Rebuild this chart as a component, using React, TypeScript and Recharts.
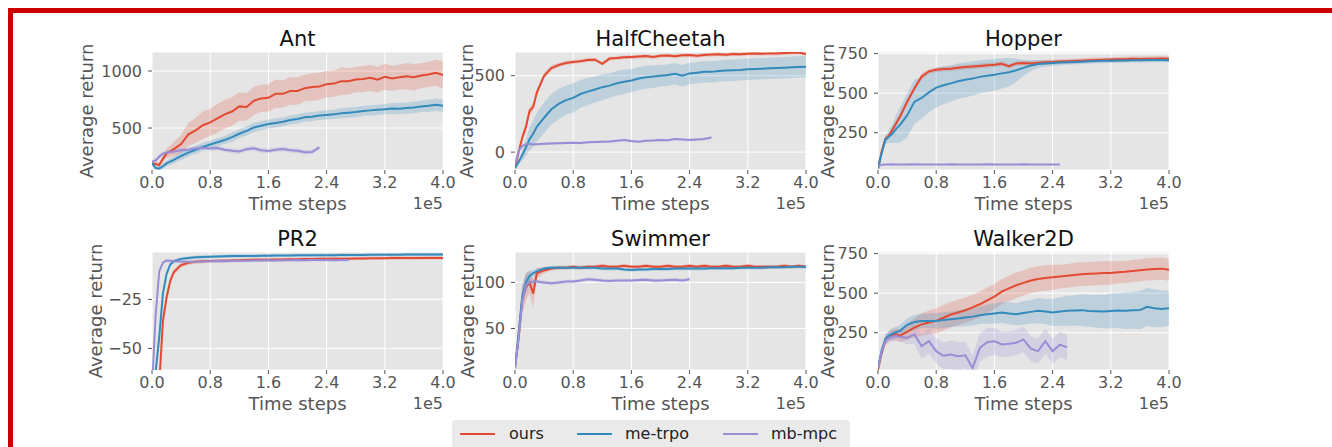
import { ComposedChart, Line, Area, XAxis, YAxis, CartesianGrid } from 'recharts';

type Num = number | null;

// x positions in units of 1e5 time steps
const steps = [
  0, 0.05, 0.1, 0.15, 0.2, 0.25, 0.3, 0.4, 0.5, 0.6, 0.7,
  0.8, 0.9, 1.0, 1.1, 1.2, 1.3, 1.4, 1.5, 1.6, 1.7, 1.8,
  1.9, 2.0, 2.1, 2.2, 2.3, 2.4, 2.5, 2.6, 2.7, 2.8, 2.9,
  3.0, 3.1, 3.2, 3.3, 3.4, 3.5, 3.6, 3.7, 3.8, 3.9, 4.0,
];
const xTicks = [0, 0.8, 1.6, 2.4, 3.2, 4.0];
const legendNames = ['ours', 'me-trpo', 'mb-mpc'];

// ---- Ant ----
const antOurs: Num[] = [
  190, 185, 176, 230, 278, 295, 315, 360, 445, 480, 525,
  550, 585, 620, 645, 690, 685, 740, 760, 765, 800, 800,
  825, 825, 850, 860, 865, 885, 890, 910, 910, 925, 930,
  940, 925, 950, 935, 945, 955, 945, 960, 970, 985, 965,
];
const antOursSd: Num[] = [
  10, 15, 20, 30, 40, 50, 60, 80, 100, 110, 120,
  120, 125, 125, 125, 125, 120, 125, 120, 120, 125, 120,
  120, 120, 115, 120, 120, 115, 115, 120, 115, 110, 115,
  115, 110, 115, 110, 110, 115, 115, 110, 110, 115, 120,
];
const antTrpo: Num[] = [
  190, 150, 145, 165, 190, 205, 220, 255, 285, 310, 335,
  355, 375, 395, 420, 450, 475, 505, 520, 535, 545, 555,
  570, 580, 595, 600, 610, 615, 620, 630, 635, 640, 650,
  655, 660, 665, 672, 670, 675, 680, 690, 695, 705, 696,
];
const antTrpoSd: Num[] = [
  10, 15, 20, 25, 25, 30, 30, 35, 35, 35, 35,
  35, 35, 35, 40, 40, 40, 40, 40, 40, 40, 40,
  40, 40, 40, 40, 40, 40, 40, 45, 45, 45, 45,
  45, 45, 45, 50, 50, 50, 50, 50, 55, 55, 55,
];
const antMpc: Num[] = [
  205, 215, 250, 275, 285, 290, 295, 305, 310, 320, 327,
  320, 325, 310, 300, 295, 315, 322, 305, 298, 310, 316,
  305, 300, 288, 290, 330, null, null, null, null, null, null,
  null, null, null, null, null, null, null, null, null, null, null,
];
const antMpcSd: Num[] = steps.map(() => 20);

// ---- HalfCheetah ----
const hcOurs: Num[] = [
  -105, 0, 95, 165, 270, 295, 390, 500, 550, 570, 583,
  590, 595, 603, 605, 578, 612, 615, 620, 622, 625, 628,
  622, 630, 632, 628, 633, 635, 630, 636, 638, 640, 637,
  642, 640, 644, 645, 643, 646, 645, 648, 650, 652, 642,
];
const hcOursSd: Num[] = [
  5, 15, 25, 25, 25, 25, 25, 20, 18, 15, 15,
  12, 12, 12, 12, 12, 12, 12, 12, 12, 12, 12,
  12, 12, 12, 12, 12, 12, 12, 12, 12, 12, 12,
  12, 12, 12, 12, 12, 12, 12, 12, 12, 12, 12,
];
const hcTrpo: Num[] = [
  -105, -65, -20, 30, 85, 120, 165, 225, 280, 315, 340,
  355, 380, 396, 410, 425, 435, 450, 460, 468, 482, 490,
  494, 500, 505, 512, 500, 515, 520, 526, 525, 530, 534,
  536, 538, 542, 544, 546, 548, 550, 552, 555, 557, 559,
];
const hcTrpoSd: Num[] = [
  5, 15, 35, 55, 75, 85, 95, 100, 100, 100, 95,
  95, 90, 90, 85, 85, 80, 80, 80, 75, 75, 75,
  75, 70, 70, 70, 70, 70, 70, 70, 70, 70, 70,
  70, 70, 70, 70, 70, 70, 70, 70, 70, 70, 70,
];
const hcMpc: Num[] = [
  -85, 10, 40, 52, 55, 50, 52, 55, 56, 58, 60,
  62, 60, 65, 66, 68, 70, 75, 80, 72, 68, 74,
  76, 80, 78, 85, 82, 80, 83, 86, 95, null, null,
  null, null, null, null, null, null, null, null, null, null, null,
];
const hcMpcSd: Num[] = steps.map(() => 8);

// ---- Hopper ----
const hopOurs: Num[] = [
  25, 130, 210, 232, 270, 310, 350, 445, 530, 605, 638,
  648, 652, 655, 660, 665, 668, 672, 676, 680, 686, 670,
  688, 690, 688, 692, 695, 697, 700, 701, 703, 705, 708,
  710, 711, 712, 714, 715, 717, 716, 718, 718, 719, 718,
];
const hopOursSd: Num[] = [
  5, 10, 15, 15, 20, 20, 20, 20, 20, 20, 15,
  15, 15, 15, 15, 15, 15, 15, 15, 15, 15, 15,
  15, 15, 15, 15, 15, 15, 15, 15, 15, 15, 15,
  15, 15, 15, 15, 15, 15, 15, 15, 15, 15, 15,
];
const hopTrpo: Num[] = [
  25, 120, 205, 225, 245, 275, 298, 360, 445, 470, 505,
  535, 550, 562, 575, 585, 592, 603, 610, 616, 625, 632,
  645, 660, 675, 684, 688, 690, 693, 695, 697, 699, 701,
  703, 704, 705, 706, 707, 708, 708, 709, 709, 710, 708,
];
const hopTrpoSd: Num[] = [
  5, 20, 25, 40, 60, 90, 110, 140, 140, 130, 125,
  125, 120, 115, 112, 110, 108, 105, 102, 100, 95, 90,
  75, 50, 35, 25, 20, 18, 16, 15, 15, 15, 15,
  15, 15, 15, 15, 15, 15, 15, 15, 15, 15, 15,
];
const hopMpc: Num[] = [
  40, 48, 50, 50, 51, 50, 50, 50, 51, 50, 50,
  50, 50, 51, 50, 50, 50, 50, 51, 50, 50, 50,
  50, 51, 50, 50, 50, 50, 50, null, null, null, null,
  null, null, null, null, null, null, null, null, null, null, null,
];
const hopMpcSd: Num[] = steps.map(() => 3);

// ---- PR2 ----
const pr2Ours: Num[] = [
  -80, -80, -68, -36, -24, -15.7, -11, -7.5, -6.3, -5.8, -5.5,
  -5.4, -5.3, -5.2, -5.1, -5.0, -4.9, -4.8, -4.8, -4.7, -4.6, -4.6,
  -4.5, -4.5, -4.4, -4.4, -4.3, -4.3, -4.2, -4.2, -4.2, -4.1, -4.1,
  -4.0, -4.0, -4.0, -3.9, -3.9, -3.9, -3.9, -3.8, -3.8, -3.8, -3.8,
];
const pr2OursSd: Num[] = [
  2, 2, 4, 4, 3, 2, 1.5, 1.2, 1, 1, 1,
  0.8, 0.8, 0.8, 0.8, 0.8, 0.8, 0.8, 0.8, 0.8, 0.8, 0.8,
  0.8, 0.8, 0.8, 0.8, 0.8, 0.8, 0.8, 0.8, 0.8, 0.8, 0.8,
  0.8, 0.8, 0.8, 0.8, 0.8, 0.8, 0.8, 0.8, 0.8, 0.8, 0.8,
];
const pr2Trpo: Num[] = [
  -75, -62, -44, -22, -12, -7.2, -5.5, -4.3, -3.9, -3.5, -3.3,
  -3.2, -3.1, -3.0, -2.9, -2.9, -2.8, -2.8, -2.7, -2.7, -2.6, -2.6,
  -2.6, -2.5, -2.5, -2.5, -2.4, -2.4, -2.4, -2.3, -2.3, -2.3, -2.3,
  -2.2, -2.2, -2.2, -2.2, -2.2, -2.1, -2.1, -2.1, -2.1, -2.1, -2.1,
];
const pr2TrpoSd: Num[] = steps.map(() => 0.8);
const pr2Mpc: Num[] = [
  -70, -33, -10.6, -6.3, -5.1, -5.3, -5.5, -5.7, -5.8, -5.8, -5.6,
  -5.5, -5.4, -5.5, -5.3, -5.2, -5.2, -5.1, -5.1, -5.0, -5.1, -5.0,
  -5.0, -4.9, -5.0, -4.9, -4.9, -4.9, -5.0, -4.9, -4.9, null, null,
  null, null, null, null, null, null, null, null, null, null, null,
];
const pr2MpcSd: Num[] = steps.map(() => 0.8);

// ---- Swimmer ----
const swOurs: Num[] = [
  7, 40, 82, 95, 100, 88, 110, 113, 115, 116, 116,
  117, 116, 117, 117, 118, 117, 117, 118, 117, 117, 118,
  117, 117, 118, 117, 117, 118, 117, 118, 117, 117, 118,
  117, 117, 118, 117, 117, 117, 117, 118, 117, 118, 117,
];
const swOursSd: Num[] = [
  1, 10, 15, 15, 12, 15, 6, 3, 2, 2, 2,
  2, 2, 2, 2, 2, 2, 2, 2, 2, 2, 2,
  2, 2, 2, 2, 2, 2, 2, 2, 2, 2, 2,
  2, 2, 2, 2, 2, 2, 2, 2, 2, 2, 2,
];
const swTrpo: Num[] = [
  7, 45, 85, 100, 107, 110, 112, 115, 116, 116, 116,
  116, 116, 116, 116, 115, 115, 115, 114, 113.5, 114, 114,
  114.5, 114.5, 114.5, 115, 115, 115, 115, 115, 115.5, 115.5, 115.5,
  115.5, 116, 116, 116, 116, 116.5, 116.5, 116.5, 117, 117, 117,
];
const swTrpoSd: Num[] = [
  1, 10, 12, 10, 6, 4, 3, 2, 2, 2, 2,
  2, 2, 2, 2, 2, 2, 2, 2, 2, 2, 2,
  2, 2, 2, 2, 2, 2, 2, 2, 2, 2, 2,
  2, 2, 2, 2, 2, 2, 2, 2, 2, 2, 2,
];
const swMpc: Num[] = [
  7, 40, 80, 97, 100, 101, 101, 100, 99, 100, 101,
  101, 102, 103.5, 103, 102, 101.5, 102, 102, 102, 102.5, 103,
  102, 102, 102.5, 103, 102, 103.5, null, null, null, null, null,
  null, null, null, null, null, null, null, null, null, null, null,
];
const swMpcSd: Num[] = [
  1, 10, 15, 10, 5, 3, 2, 2, 2, 2, 2,
  2, 2, 2, 2, 2, 2, 2, 2, 2, 2, 2,
  2, 2, 2, 2, 2, 2, 2, 2, 2, 2, 2,
  2, 2, 2, 2, 2, 2, 2, 2, 2, 2, 2,
];

// ---- Walker2D ----
const wkOurs: Num[] = [
  17, 120, 200, 229, 238, 240, 232, 255, 282, 303, 315,
  325, 345, 365, 378, 392, 410, 430, 455, 478, 510, 530,
  550, 565, 580, 590, 596, 600, 605, 610, 615, 620, 622,
  625, 627, 628, 632, 635, 640, 645, 650, 652, 655, 648,
];
const wkOursSd: Num[] = [
  5, 20, 30, 30, 35, 35, 40, 50, 60, 70, 75,
  80, 80, 80, 80, 80, 80, 80, 80, 80, 80, 80,
  80, 80, 80, 80, 80, 80, 75, 75, 75, 75, 75,
  75, 75, 75, 70, 70, 70, 70, 70, 70, 70, 70,
];
const wkTrpo: Num[] = [
  28, 140, 210, 232, 245, 255, 261, 300, 318, 325, 325,
  325, 330, 335, 340, 346, 352, 360, 367, 372, 378, 372,
  367, 375, 382, 389, 384, 378, 384, 389, 391, 393, 388,
  386, 384, 388, 390, 389, 392, 393, 414, 405, 400, 405,
];
const wkTrpoSd: Num[] = [
  5, 20, 30, 30, 35, 35, 40, 40, 45, 45, 45,
  50, 50, 50, 50, 55, 55, 55, 60, 65, 65, 70,
  70, 75, 75, 80, 80, 85, 90, 95, 95, 100, 100,
  105, 105, 110, 110, 115, 115, 120, 120, 120, 115, 110,
];
const wkMpc: Num[] = [
  28, 130, 200, 218, 225, 229, 225, 218, 240, 166, 197,
  134, 105, 112, 102, 108, 28, 155, 190, 197, 176, 180,
  187, 208, 150, 134, 197, 134, 175, 158, null, null, null,
  null, null, null, null, null, null, null, null, null, null, null,
];
const wkMpcSd: Num[] = [
  5, 20, 30, 30, 30, 30, 30, 40, 60, 80, 80,
  80, 85, 90, 90, 85, 80, 90, 90, 85, 80, 80,
  80, 80, 80, 80, 80, 80, 80, 80, 80, 80, 80,
  80, 80, 80, 80, 80, 80, 80, 80, 80, 80, 80,
];

const RED = '#E24A33';
const BLUE = '#348ABD';
const PURPLE = '#988ED5';
const FONT = '"DejaVu Sans", sans-serif';

const PLOT_W = 291;
const PLOT_H = 118;
const Y_AXIS_W = 70;
const M_TOP = 10;
const M_RIGHT = 24;

function band(v: Num[], sd: Num[], i: number) {
  const m = v[i];
  const s = sd[i];
  if (m == null || s == null) return null;
  return [m - s, m + s];
}

function buildRows(ours: Num[], oursSd: Num[], trpo: Num[], trpoSd: Num[], mpc: Num[], mpcSd: Num[]) {
  return steps.map((x, i) => ({
    x,
    ours: ours[i],
    oursBand: band(ours, oursSd, i),
    trpo: trpo[i],
    trpoBand: band(trpo, trpoSd, i),
    mpc: mpc[i],
    mpcBand: band(mpc, mpcSd, i),
  }));
}

const panels = [
  { title: 'Ant', left: 152, top: 52, domain: [132, 1167], yTicks: [500, 1000], ylabelX: 88,
    rows: buildRows(antOurs, antOursSd, antTrpo, antTrpoSd, antMpc, antMpcSd) },
  { title: 'HalfCheetah', left: 515, top: 52, domain: [-117, 655], yTicks: [0, 500], ylabelX: 468,
    rows: buildRows(hcOurs, hcOursSd, hcTrpo, hcTrpoSd, hcMpc, hcMpcSd) },
  { title: 'Hopper', left: 878, top: 52, domain: [15, 760], yTicks: [250, 500, 750], ylabelX: 829,
    rows: buildRows(hopOurs, hopOursSd, hopTrpo, hopTrpoSd, hopMpc, hopMpcSd) },
  { title: 'PR2', left: 152, top: 252, domain: [-61, -0.8], yTicks: [-50, -25], ylabelX: 97,
    rows: buildRows(pr2Ours, pr2OursSd, pr2Trpo, pr2TrpoSd, pr2Mpc, pr2MpcSd) },
  { title: 'Swimmer', left: 515, top: 252, domain: [5, 133], yTicks: [50, 100], ylabelX: 469,
    rows: buildRows(swOurs, swOursSd, swTrpo, swTrpoSd, swMpc, swMpcSd) },
  { title: 'Walker2D', left: 878, top: 252, domain: [15, 760], yTicks: [250, 500, 750], ylabelX: 829,
    rows: buildRows(wkOurs, wkOursSd, wkTrpo, wkTrpoSd, wkMpc, wkMpcSd) },
];

const tickStyle = { fill: '#555555', fontSize: 16, fontFamily: FONT };

function formatY(v: number) {
  return v < 0 ? '\u2212' + Math.abs(v) : String(v);
}

interface PanelProps {
  left: number;
  top: number;
  domain: number[];
  yTicks: number[];
  rows: ReturnType<typeof buildRows>;
}

function Panel({ left, top, domain, yTicks, rows }: PanelProps) {
  return (
    <div style={{ position: 'absolute', left: left - Y_AXIS_W, top: top - M_TOP }}>
      <ComposedChart
        width={Y_AXIS_W + PLOT_W + M_RIGHT}
        height={M_TOP + PLOT_H + 40}
        data={rows}
        margin={{ top: M_TOP, right: M_RIGHT, bottom: 0, left: 0 }}
      >
        <CartesianGrid fill="#E5E5E5" stroke="#FFFFFF" strokeWidth={1} />
        <XAxis
          dataKey="x"
          type="number"
          domain={[0, 4]}
          ticks={xTicks}
          interval={0}
          allowDataOverflow
          tickFormatter={(v: number) => v.toFixed(1)}
          axisLine={false}
          tickLine={{ stroke: '#555555' }}
          tickSize={4}
          tickMargin={3}
          tick={tickStyle}
          height={40}
        />
        <YAxis
          type="number"
          domain={domain}
          ticks={yTicks}
          interval={0}
          allowDataOverflow
          tickFormatter={formatY}
          axisLine={false}
          tickLine={{ stroke: '#555555' }}
          tickSize={4}
          tickMargin={6}
          tick={tickStyle}
          width={Y_AXIS_W}
        />
        <Area dataKey="oursBand" type="linear" stroke="none" fill={RED} fillOpacity={0.22} isAnimationActive={false} activeDot={false} />
        <Line dataKey="ours" type="linear" stroke={RED} strokeWidth={2} dot={false} activeDot={false} isAnimationActive={false} />
        <Area dataKey="trpoBand" type="linear" stroke="none" fill={BLUE} fillOpacity={0.22} isAnimationActive={false} activeDot={false} />
        <Line dataKey="trpo" type="linear" stroke={BLUE} strokeWidth={2} dot={false} activeDot={false} isAnimationActive={false} />
        <Area dataKey="mpcBand" type="linear" stroke="none" fill={PURPLE} fillOpacity={0.22} isAnimationActive={false} activeDot={false} />
        <Line dataKey="mpc" type="linear" stroke={PURPLE} strokeWidth={2} dot={false} activeDot={false} isAnimationActive={false} />
      </ComposedChart>
    </div>
  );
}

function Labels() {
  const legendColors = [RED, BLUE, PURPLE];
  const legendLineX = [460, 577, 723];
  const legendTextX = [509, 625, 771];
  return (
    <svg
      width={1332}
      height={447}
      style={{ position: 'absolute', left: 0, top: 0, pointerEvents: 'none' }}
      fontFamily={FONT}
    >
      <rect x={8} y={8} width={1324} height={5} fill="#CC0000" />
      <rect x={8} y={8} width={5} height={439} fill="#CC0000" />
      {panels.map((p) => {
        const cx = p.left + PLOT_W / 2;
        const bottom = p.top + PLOT_H;
        const ly = p.top + PLOT_H / 2;
        const lx = p.ylabelX + 4.5;
        return (
          <g key={p.title}>
            <text x={cx} y={p.top - 6} textAnchor="middle" fontSize={21} fill="#111111">
              {p.title}
            </text>
            <text x={cx} y={bottom + 39.5} textAnchor="middle" fontSize={18} fill="#555555">
              Time steps
            </text>
            <text x={p.left + PLOT_W} y={bottom + 39} textAnchor="end" fontSize={16} fill="#555555">
              1e5
            </text>
            <text
              x={lx}
              y={ly}
              textAnchor="middle"
              fontSize={18}
              fill="#555555"
              transform={`rotate(-90 ${lx} ${ly})`}
            >
              Average return
            </text>
          </g>
        );
      })}
      <rect x={452} y={420} width={398} height={40} rx={4} fill="#EAEAEA" />
      {legendNames.map((name, i) => (
        <g key={name}>
          <line x1={legendLineX[i]} x2={legendLineX[i] + 35} y1={434} y2={434} stroke={legendColors[i]} strokeWidth={2} />
          <text x={legendTextX[i]} y={439} fontSize={16} fill="#222222">
            {name}
          </text>
        </g>
      ))}
    </svg>
  );
}

export default function App() {
  return (
    <div style={{ position: 'absolute', left: 0, top: 0, width: 1332, height: 447, background: '#FFFFFF', overflow: 'hidden' }}>
      {panels.map((p) => (
        <Panel key={p.title} left={p.left} top={p.top} domain={p.domain} yTicks={p.yTicks} rows={p.rows} />
      ))}
      <Labels />
    </div>
  );
}
